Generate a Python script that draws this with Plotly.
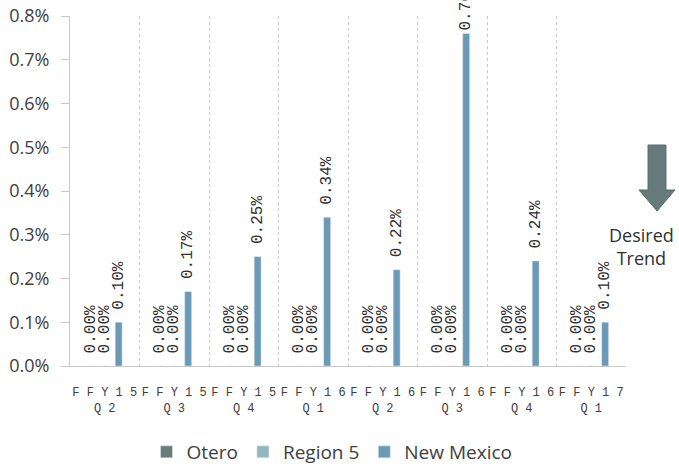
import plotly.graph_objects as go

categories = ["F F Y 1 5<br>Q 2", "F F Y 1 5<br>Q 3", "F F Y 1 5<br>Q 4", "F F Y 1 6<br>Q 1",
              "F F Y 1 6<br>Q 2", "F F Y 1 6<br>Q 3", "F F Y 1 6<br>Q 4", "F F Y 1 7<br>Q 1"]
otero = [0.0, 0.0, 0.0, 0.0, 0.0, 0.0, 0.0, 0.0]
region5 = [0.0, 0.0, 0.0, 0.0, 0.0, 0.0, 0.0, 0.0]
new_mexico = [0.0010, 0.0017, 0.0025, 0.0034, 0.0022, 0.0076, 0.0024, 0.0010]

# body margin is removed by the post script, so the figure fills the window from (0, 0)
W, H = 679, 466
PL, PR, PT, PB = 70, 626, 16, 366  # plot area in screen pixels
L, T = PL, PT
R = W - L - (PR - PL)
B = H - T - (PB - PT)

def px(x):
    return (x - PL) / (PR - PL)

def py(y):
    return (PB - y) / (PB - PT)

lab_font = dict(family="Liberation Mono", size=16, color="#303030")
bw = 0.1
centers = [-0.2, 0.0, 0.2]
series = [("Otero", otero, "#687c7d"), ("Region 5", region5, "#93b6c3"), ("New Mexico", new_mexico, "#6a9ab6")]

fig = go.Figure()
for (name, vals, col), c in zip(series, centers):
    # the tallest label sits close to its bar (it runs into the top edge)
    tmpl = ["%{y:.2%}" if v >= 0.007 else "\u00a0%{y:.2%}" for v in vals]
    fig.add_trace(go.Bar(
        name=name, x=categories, y=vals, marker_color=col, width=bw, offset=c - bw / 2,
        texttemplate=tmpl, textposition="outside", textangle=-90,
        textfont=lab_font, constraintext="none", cliponaxis=False,
    ))

fig.update_layout(
    width=W, height=H, margin=dict(l=L, r=R, t=T, b=B, autoexpand=False),
    plot_bgcolor="white", paper_bgcolor="white", barmode="group",
    font=dict(family="Open Sans", color="#404040"),
    showlegend=True,
    legend=dict(orientation="h", x=px(332), xanchor="center", y=py(452), yanchor="middle",
                font=dict(family="Open Sans", size=19, color="#404040"), traceorder="normal"),
    xaxis=dict(tickson="boundaries", showgrid=True, gridcolor="#c8c8c8", griddash="dot", gridwidth=1,
               ticks="", showline=True, linecolor="#c8c8c8", tickangle=0, automargin=False,
               ticklabelstandoff=15,
               tickfont=dict(family="Liberation Mono", size=12, color="#404040")),
    yaxis=dict(range=[0, 0.008], dtick=0.001, tickformat=".1%", showgrid=False, zeroline=False,
               showline=True, linecolor="#c8c8c8", ticks="outside", ticklen=8, tickcolor="#c8c8c8",
               automargin=False, ticklabelstandoff=8, ticklabeloverflow="allow",
               tickfont=dict(family="Open Sans", size=18, color="#404040")),
)

# Desired trend arrow (paper coordinates from screen pixel positions)
pts = [(648, 145), (666, 145), (666, 190), (675, 190), (657, 211), (639, 190), (648, 190)]
path = "M " + " L ".join(f"{px(x):.4f},{py(y):.4f}" for x, y in pts) + " Z"
fig.add_shape(type="path", path=path, xref="paper", yref="paper",
              fillcolor="#667a7a", line=dict(color="#5a6e6e", width=1))
fig.add_annotation(text="Desired<br>Trend", xref="paper", yref="paper", x=px(641), y=py(246),
                   showarrow=False, font=dict(family="Open Sans", size=18, color="#303030"),
                   xanchor="center", yanchor="middle")

fig.write_html("out.html", config={"displayModeBar": False},
               post_script="document.body.style.margin='0';document.body.style.overflow='hidden';")
